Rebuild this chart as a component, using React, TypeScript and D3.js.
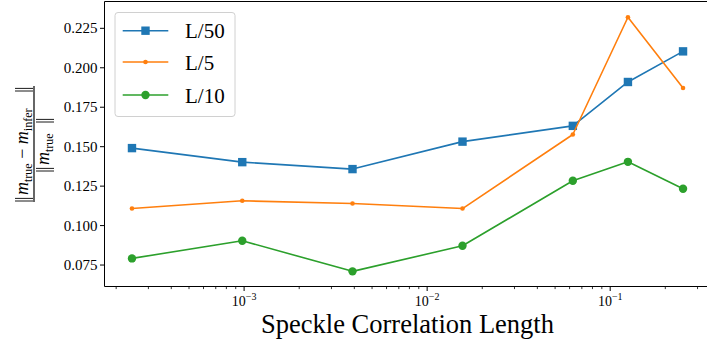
import React from "react";
import * as d3 from "d3";

// Correlation lengths (x) and relative reconstruction error per setting
const corrLengths = [0.000244, 0.000977, 0.00391, 0.0156, 0.0625, 0.125, 0.25];
const errL50 = [0.1491, 0.1402, 0.1358, 0.1532, 0.1632, 0.191, 0.2104];
const errL5 = [0.1108, 0.1157, 0.114, 0.1108, 0.1577, 0.232, 0.1872];
const errL10 = [0.0792, 0.0904, 0.071, 0.0872, 0.1284, 0.1404, 0.1233];
const seriesNames = ["L/50", "L/5", "L/10"];
const yTickValues = [0.075, 0.1, 0.125, 0.15, 0.175, 0.2, 0.225];
const xMajorExponents = [-3, -2, -1];

const W = 707;
const H = 347;
const left = 104.5;
const right = 710.6;
const top = 1.5;
const bottom = 286.5;

const FONT = "'Liberation Serif', 'DejaVu Serif', serif";

type Marker = "square" | "dot" | "circle";

// a tall double bar (norm delimiter)
const Norm = ({ x1, yTop, yBot }: { x1: number; yTop: number; yBot: number }) => (
  <g stroke="#000" strokeWidth={0.9}>
    <line x1={x1} x2={x1} y1={yTop} y2={yBot} />
    <line x1={x1 + 2.6} x2={x1 + 2.6} y1={yTop} y2={yBot} />
  </g>
);

export default function App() {
  const x = d3
    .scaleLog()
    .domain([Math.pow(10, -3.7627), Math.pow(10, -0.4515)])
    .range([left, right]);
  const y = d3.scaleLinear().domain([0.0614, 0.242]).range([bottom, top]);

  const series: { name: string; values: number[]; color: string; marker: Marker }[] = [
    { name: seriesNames[0], values: errL50, color: "#1f77b4", marker: "square" },
    { name: seriesNames[1], values: errL5, color: "#ff7f0e", marker: "dot" },
    { name: seriesNames[2], values: errL10, color: "#2ca02c", marker: "circle" },
  ];

  const line = d3
    .line<[number, number]>()
    .x((d) => x(d[0]))
    .y((d) => y(d[1]));

  const drawMarker = (m: Marker, cx: number, cy: number, color: string, key: string) => {
    if (m === "square")
      return <rect key={key} x={cx - 4.2} y={cy - 4.2} width={8.4} height={8.4} fill={color} />;
    if (m === "dot") return <circle key={key} cx={cx} cy={cy} r={2.3} fill={color} />;
    return <circle key={key} cx={cx} cy={cy} r={4.2} fill={color} />;
  };

  // minor ticks on log axis
  const [d0, d1] = x.domain();
  const minorTicks: number[] = [];
  for (let e = -4; e <= 0; e++) {
    for (let k = 2; k <= 9; k++) {
      const v = k * Math.pow(10, e);
      if (v >= d0 && v <= d1) minorTicks.push(v);
    }
  }

  const legendX = 115;
  const legendY = 12.5;
  const legendRows = [30.7, 62, 95];

  return (
    <div style={{ position: "fixed", left: 0, top: 0 }}>
      <svg width={W} height={H} style={{ display: "block", background: "#fff" }}>
        <rect width={W} height={H} fill="#fff" />
        <defs>
          <clipPath id="plotclip">
            <rect x={left} y={top} width={right - left} height={bottom - top} />
          </clipPath>
        </defs>
        <g clipPath="url(#plotclip)">
          {series.map((s) => (
            <g key={s.name}>
              <path
                d={line(corrLengths.map((c, i) => [c, s.values[i]]) as [number, number][]) || ""}
                fill="none"
                stroke={s.color}
                strokeWidth={1.6}
                strokeLinejoin="round"
              />
              {corrLengths.map((c, i) =>
                drawMarker(s.marker, x(c), y(s.values[i]), s.color, s.name + i)
              )}
            </g>
          ))}
        </g>

        {/* spines */}
        <line x1={left} x2={left} y1={top} y2={bottom} stroke="#000" strokeWidth={1} />
        <line x1={left} x2={W} y1={bottom} y2={bottom} stroke="#000" strokeWidth={1} />
        <line x1={left} x2={W} y1={top} y2={top} stroke="#000" strokeWidth={1} />

        {/* y ticks */}
        {yTickValues.map((v) => (
          <g key={v}>
            <line x1={left - 4.5} x2={left} y1={y(v)} y2={y(v)} stroke="#000" strokeWidth={1} />
            <text
              x={left - 7}
              y={y(v)}
              dy="0.34em"
              textAnchor="end"
              fontFamily={FONT}
              fontSize={15}
              fill="#000"
            >
              {d3.format(".3f")(v)}
            </text>
          </g>
        ))}

        {/* x ticks */}
        {minorTicks.map((v) => (
          <line key={v} x1={x(v)} x2={x(v)} y1={bottom} y2={bottom + 2.6} stroke="#000" strokeWidth={0.8} />
        ))}
        {xMajorExponents.map((e) => {
          const v = Math.pow(10, e);
          return (
            <g key={e}>
              <line x1={x(v)} x2={x(v)} y1={bottom} y2={bottom + 4.5} stroke="#000" strokeWidth={1} />
              <text x={x(v)} y={306} textAnchor="middle" fontFamily={FONT} fontSize={14} fill="#000">
                10
                <tspan dy={-6} fontSize={10}>
                  {"\u2212" + Math.abs(e)}
                </tspan>
              </text>
            </g>
          );
        })}

        {/* x label */}
        <text
          x={(left + right) / 2}
          y={333}
          textAnchor="middle"
          fontFamily={FONT}
          fontSize={26.5}
          fill="#000"
        >
          Speckle Correlation Length
        </text>

        {/* y label: fraction */}
        <g transform="translate(34,144) rotate(-90)" fontFamily={FONT} fill="#000">
          <Norm x1={-57} yTop={-19} yBot={-1} />
          <text x={-51} y={-6} fontSize={18}>
            <tspan fontStyle="italic">m</tspan>
            <tspan fontSize={12} dy={3.5}>true</tspan>
            <tspan dy={-3.5}>{" \u2212 "}</tspan>
            <tspan fontStyle="italic">m</tspan>
            <tspan fontSize={12} dy={3.5}>infer</tspan>
          </text>
          <Norm x1={53} yTop={-19} yBot={-1} />
          <line x1={-58} x2={58} y1={0} y2={0} stroke="#000" strokeWidth={1.2} />
          <Norm x1={-27} yTop={2} yBot={20} />
          <text x={-21} y={15} fontSize={18}>
            <tspan fontStyle="italic">m</tspan>
            <tspan fontSize={12} dy={3.5}>true</tspan>
          </text>
          <Norm x1={22} yTop={2} yBot={20} />
        </g>

        {/* legend */}
        <rect
          x={legendX}
          y={legendY}
          width={120}
          height={104}
          rx={3}
          fill="#fff"
          fillOpacity={0.8}
          stroke="#d0d0d0"
          strokeWidth={1}
        />
        {series.map((s, i) => (
          <g key={s.name}>
            <line x1={122.7} x2={168.3} y1={legendRows[i]} y2={legendRows[i]} stroke={s.color} strokeWidth={1.6} />
            {drawMarker(s.marker, 145.5, legendRows[i], s.color, "lg" + i)}
            <text x={185} y={legendRows[i] + 7.5} fontFamily={FONT} fontSize={21} fill="#000">
              {s.name}
            </text>
          </g>
        ))}
      </svg>
    </div>
  );
}
